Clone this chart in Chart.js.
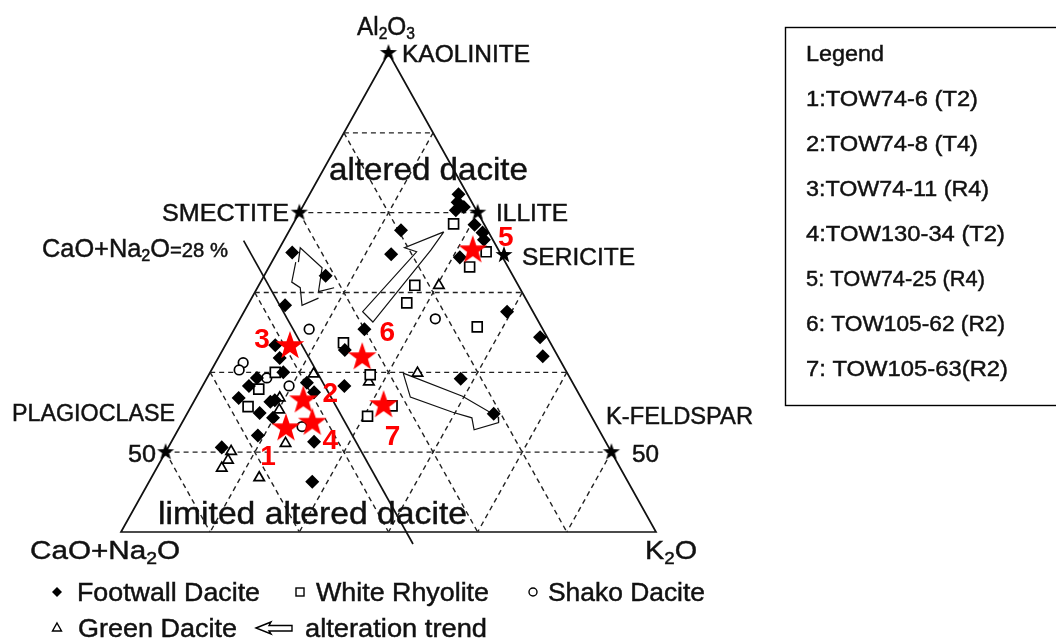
<!DOCTYPE html>
<html>
<head>
<meta charset="utf-8">
<script src="https://cdn.jsdelivr.net/npm/chart.js@4.4.1/dist/chart.umd.min.js"></script>
<style>
  html, body { margin: 0; padding: 0; background: #fff; }
  #chart { display: block; }
</style>
</head>
<body>
<canvas id="chart" width="1056" height="640"></canvas>
<script>
// compositions as [Al2O3, K2O] in %, CaO+Na2O is what is left
const footwallDacite = [
  [77.8, 12.5], [75, 1.7], [74.8, 12.9], [72.1, 6.9], [68.4, 4.2],
  [82.3, 16.7], [81.3, 17.1], [80.3, 17.4], [80.7, 18.1], [78.5, 20.4], [77.5, 21.8], [76.6, 22.4], [74.4, 20.8],
  [67.6, 29.5], [64.4, 34.8], [62, 36.3], [59.2, 28.5], [54.8, 34.4],
  [65.4, 14.6], [62.8, 13.7], [63.4, 5.6], [61.8, 6.9], [60, 8.2], [59.3, 5.6], [58.3, 5.2],
  [58.7, 11.5], [57.5, 12.9], [58.3, 15.9], [56.8, 4.8], [56.3, 8.6], [56.5, 9], [54.9, 8.1],
  [54.3, 9.9], [51.3, 16], [52.1, 9.3], [50.6, 6], [46.3, 18.3]
];
const whiteRhyolite = [
  [78.6, 18], [75.1, 23.4], [73.2, 22.5], [70.9, 17.5], [68.7, 17.7], [65.7, 27.1], [63.7, 13.1],
  [59.7, 18.1], [60, 7.3], [57.9, 6.5], [55.7, 6.4], [55.8, 22.5], [54.5, 20.4]
];
const shakoDacite = [
  [65.4, 8.4], [66.7, 21.9], [61.2, 3.1], [60.3, 3.1], [59.3, 6.7], [58.3, 9.7], [53.2, 13.7]
];
const greenDacite = [
  [70.9, 20.2], [59.8, 11.7], [58.8, 18.4], [59.9, 23.3], [55.3, 10.1], [56.8, 9.4],
  [51.1, 12.9], [50.1, 7.3], [49, 7.5], [48, 7.3], [46.8, 12.1]
];
// red stars 1..7
const samples = [
  [53, 12], [56.5, 12.2], [63.3, 7.3], [53.7, 14.6], [75.3, 21.8], [61.9, 16.1], [55.9, 21.5]
];
const sampleNumbers = ['1', '2', '3', '4', '5', '6', '7'];
const sampleNames = [
  '1:TOW74-6 (T2)', '2:TOW74-8 (T4)', '3:TOW74-11 (R4)', '4:TOW130-34 (T2)',
  '5: TOW74-25 (R4)', '6: TOW105-62 (R2)', '7: TOW105-63(R2)'
];
// reference minerals
const minerals = [[100, 0], [80, 0], [80, 20], [74.7, 25.6], [50, 0], [50, 50]];
const mineralNames = ['KAOLINITE', 'SMECTITE', 'ILLITE', 'SERICITE', 'PLAGIOCLASE', 'K-FELDSPAR'];

const alLevels = [90, 80, 70, 60, 50];      // horizontal dashed lines
const sideLevels = [10, 20, 30, 40, 50];    // K2O and CaO+Na2O dashed lines
const alMin = 40;
const cnLimit = 28;                          // CaO+Na2O = 28 % line
const cnLineSpan = [76.5, 38.5];             // Al2O3 range of that line

// hollow "alteration trend" arrows, each a list of outlines
const trendArrows = [
  [[[73.8, 3.0], [75.6, 2.3], [73.1, 6.0], [70.1, 7.1], [70.6, 8.6]],
   [[73.8, 2.7], [71.3, 3.5], [70.6, 4.8], [68.4, 6.1], [69.3, 7.5]]],
  [[[77.6, 17.4], [75.6, 14.0], [75.1, 15.6], [67.6, 13.3], [66.3, 15.1], [75.3, 17.1], [77.6, 17.4]]],
  [[[59.9, 21.7], [57.0, 29.8], [54.4, 35.1], [53.7, 35.5], [52.8, 33.2], [54.3, 32.2], [55.0, 29.7], [56.9, 24.0], [59.9, 21.7]]]
];

// ternary -> plot space: x = (K - CN) / 2, y = Al2O3
const toXY = (a, k) => ({ x: k - 50 + a / 2, y: a });
const pts = list => list.map(p => toXY(p[0], p[1]));

function makeStar(r, color) {
  const c = document.createElement('canvas');
  c.width = c.height = Math.ceil(r * 2 + 2);
  const g = c.getContext('2d');
  const cx = c.width / 2, cy = c.height / 2;
  g.beginPath();
  for (let i = 0; i < 10; i++) {
    const rad = i % 2 === 0 ? r : r * 0.4;
    const ang = -Math.PI / 2 + i * Math.PI / 5;
    g.lineTo(cx + rad * Math.cos(ang), cy + rad * Math.sin(ang));
  }
  g.closePath();
  g.fillStyle = color;
  g.fill();
  return c;
}

function lineSet(data, dashed, width) {
  return {
    type: 'scatter', data: data, showLine: true, pointRadius: 0,
    borderColor: dashed ? '#222' : '#111', borderWidth: width || (dashed ? 1.4 : 1.7),
    borderDash: dashed ? [5, 4] : [], fill: false, clip: false, order: 10
  };
}

const datasets = [];
alLevels.forEach(a => datasets.push(lineSet([toXY(a, 0), toXY(a, 100 - a)], true)));
sideLevels.forEach(v => {
  datasets.push(lineSet([toXY(100 - v, v), toXY(alMin, v)], true));            // K2O = v
  datasets.push(lineSet([toXY(100 - v, 0), toXY(alMin, 100 - alMin - v)], true)); // CaO+Na2O = v
});
datasets.push(lineSet([toXY(100, 0), toXY(alMin, 0), toXY(alMin, 100 - alMin), toXY(100, 0)], false));
datasets.push(lineSet(cnLineSpan.map(a => toXY(a, 100 - a - cnLimit)), false));
trendArrows.forEach(arrow => arrow.forEach(path => datasets.push(lineSet(pts(path), false, 1.2))));

function pointSet(data, style, radius, fill, order) {
  return {
    type: 'scatter', data: pts(data), pointStyle: style, pointRadius: radius,
    backgroundColor: fill, borderColor: '#000', borderWidth: 1.7, clip: false, order: order
  };
}
datasets.push(pointSet(footwallDacite, 'rectRot', 5.8, '#000', 4));
datasets.push(pointSet(whiteRhyolite, 'rect', 7, '#fff', 4));
datasets.push(pointSet(shakoDacite, 'circle', 4.8, '#fff', 4));
datasets.push(pointSet(greenDacite, 'triangle', 6, '#fff', 4));
datasets.push(pointSet(minerals, makeStar(9, '#000'), 9, '#000', 2));
datasets.push(pointSet(samples, makeStar(15, '#ff0000'), 15, '#f00', 1));
const sampleIndex = datasets.length - 1;

const FONT = '"Liberation Sans", Arial, sans-serif';

// draw text parts stretched to a given width; parts are [text, sizeFactor, dy]
function drawRich(ctx, parts, left, base, width, size, style, color) {
  ctx.save();
  let total = 0;
  const ws = parts.map(p => {
    ctx.font = (style || '') + ' ' + Math.round(size * (p[1] || 1)) + 'px ' + FONT;
    const w = ctx.measureText(p[0]).width;
    total += w;
    return w;
  });
  ctx.translate(left, base);
  ctx.scale(width ? width / total : 1, 1);
  ctx.fillStyle = color || '#111';
  ctx.strokeStyle = color || '#111';
  ctx.lineWidth = 0.45;
  ctx.textBaseline = 'alphabetic';
  let x = 0;
  parts.forEach((p, i) => {
    ctx.font = (style || '') + ' ' + Math.round(size * (p[1] || 1)) + 'px ' + FONT;
    ctx.fillText(p[0], x, p[2] || 0);
    ctx.strokeText(p[0], x, p[2] || 0);
    x += ws[i];
  });
  ctx.restore();
}

const labelsPlugin = {
  id: 'labels',
  afterDraw(chart) {
    const ctx = chart.ctx;
    const t = (s, l, b, w, size) => drawRich(ctx, [[s]], l, b, w, size);

    drawRich(ctx, [['Al'], ['2', 0.62, 4], ['O'], ['3', 0.62, 4]], 357, 35, 58, 25);
    t(mineralNames[0], 402, 62, 128, 23);
    t('altered dacite', 329, 180, 199, 32);
    t(mineralNames[1], 162, 221, 127, 23);
    t(mineralNames[2], 496, 221, 72, 23);
    t(mineralNames[3], 522, 265, 113, 23);
    drawRich(ctx, [['CaO+Na'], ['2', 0.62, 4], ['O'], ['=28 %', 0.78]], 42, 257, 186, 25);
    t(mineralNames[4], 12, 421, 163, 23);
    t('50', 128, 462, 28, 23);
    t(mineralNames[5], 606, 424, 147, 23);
    t('50', 632, 462, 27, 23);
    t('limited altered dacite', 158, 524, 309, 32);
    drawRich(ctx, [['CaO+Na'], ['2', 0.65, 5], ['O']], 30, 559, 150, 26);
    drawRich(ctx, [['K'], ['2', 0.65, 5], ['O']], 645, 559, 52, 26);

    // red sample numbers next to their stars
    const offs = [[-18, 29], [27, -6], [-28, -6], [18, 19], [33, -12], [25, -24], [9, 32]];
    const meta = chart.getDatasetMeta(sampleIndex);
    ctx.save();
    ctx.fillStyle = '#ff0000';
    ctx.font = 'bold 28px ' + FONT;
    ctx.textAlign = 'center';
    ctx.textBaseline = 'middle';
    meta.data.forEach((el, i) => ctx.fillText(sampleNumbers[i], el.x + offs[i][0], el.y + offs[i][1]));
    ctx.restore();

    // symbol key under the diagram
    ctx.save();
    ctx.strokeStyle = '#000';
    ctx.fillStyle = '#000';
    ctx.lineWidth = 1.4;
    ctx.beginPath();
    ctx.moveTo(57, 587); ctx.lineTo(62, 592); ctx.lineTo(57, 597); ctx.lineTo(52, 592); ctx.closePath();
    ctx.fill();
    ctx.strokeRect(296, 588, 8, 8);
    ctx.beginPath(); ctx.arc(533, 592, 4, 0, Math.PI * 2); ctx.stroke();
    ctx.beginPath();
    ctx.moveTo(57, 623); ctx.lineTo(61.5, 631); ctx.lineTo(52.5, 631); ctx.closePath(); ctx.stroke();
    ctx.beginPath();
    ctx.moveTo(256, 628); ctx.lineTo(271, 622); ctx.lineTo(269, 625.5); ctx.lineTo(292, 625.5);
    ctx.lineTo(292, 631); ctx.lineTo(269, 631); ctx.lineTo(271, 634); ctx.closePath(); ctx.stroke();
    ctx.restore();
    t('Footwall Dacite', 77, 601, 183, 25);
    t('White Rhyolite', 316, 601, 173, 25);
    t('Shako Dacite', 548, 601, 157, 25);
    t('Green Dacite', 78, 637, 159, 25);
    t('alteration trend', 305, 637, 182, 25);

    // sample legend box
    ctx.save();
    ctx.strokeStyle = '#000';
    ctx.lineWidth = 1.4;
    ctx.strokeRect(785.5, 27.5, 280, 378);
    ctx.restore();
    t('Legend', 806, 61, 78, 22);
    const rightEdge = [978, 978, 989, 1005, 985, 1005, 1008];
    sampleNames.forEach((s, i) => t(s, 806, 106 + i * 45, rightEdge[i] - 806, 22));
  }
};

new Chart(document.getElementById('chart'), {
  type: 'scatter',
  data: { datasets: datasets },
  options: {
    responsive: false,
    animation: false,
    events: [],
    layout: { padding: { left: 121, right: 400, top: 53, bottom: 108 } },
    scales: {
      x: { type: 'linear', min: -30, max: 30, display: false },
      y: { type: 'linear', min: alMin, max: 100, display: false }
    },
    plugins: { legend: { display: false }, tooltip: { enabled: false } }
  },
  plugins: [labelsPlugin]
});
</script>
</body>
</html>
